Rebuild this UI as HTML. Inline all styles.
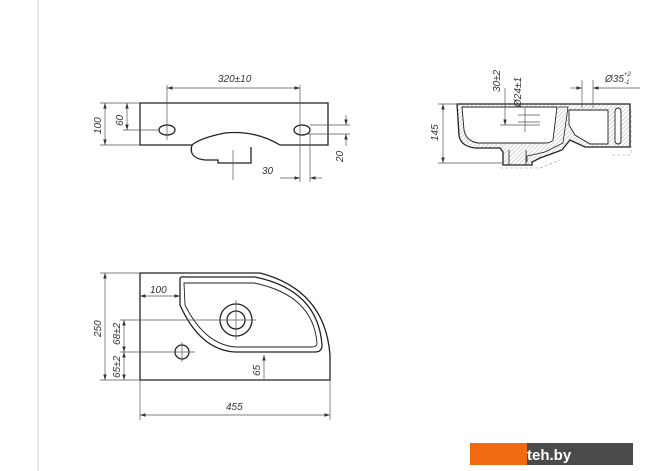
<!DOCTYPE html>
<html><head><style>body{margin:0;background:#fff}svg{display:block}text{font-family:"Liberation Sans",sans-serif;font-style:italic;font-size:10px;fill:#333}</style></head><body>
<svg width="670" height="471" viewBox="0 0 670 471" xmlns="http://www.w3.org/2000/svg">
<defs><marker id="a" markerWidth="8" markerHeight="6" refX="8" refY="3" orient="auto-start-reverse"><path d="M0,0.5 L8,3 L0,5.5" fill="#333"/></marker>
<pattern id="h" width="3" height="3" patternUnits="userSpaceOnUse" patternTransform="rotate(45)"><line x1="0" y1="0" x2="0" y2="3" stroke="#999" stroke-width="0.8"/></pattern></defs>
<line x1="38" y1="0" x2="38" y2="471" stroke="#ccc"/>
<g fill="none" stroke="#222" stroke-width="1.3">
<!-- front view -->
<path d="M140,103 H328 V145 H280 Q255,130 225,133 Q200,138 192,145 H140 Z"/>
<path d="M192,145 Q188,158 205,160 H218 V163 H251 V147"/>
<ellipse cx="167" cy="130" rx="8" ry="5"/><ellipse cx="302" cy="130" rx="8" ry="5"/>
<!-- side view -->
<path d="M457,104 H630 V147 H585 L570,140 L562,150 L540,158 L532,162 V165 H503 V152 L500,148 H475 Q460,146 459,135 Z" fill="url(#h)"/>
<path d="M462,107 H557 L553,140 Q551,143 545,143 H478 Q466,141 464,130 Z" fill="#fff" stroke-width="0.9"/>
<path d="M558,107 H568 L563,143 L545,152 L532,155 L527,156 L527,162" stroke-width="0.8"/>
<path d="M509,150 V165 M526,150 V165" stroke-width="0.8"/>
<path d="M569,110 H608 V144 H590 L575,135 L569,125 Z" fill="#fff" stroke-width="0.9"/>
<rect x="615" y="108" width="6" height="36" rx="3" fill="#fff" stroke-width="0.9"/>
<path d="M631,110 V155 M612,155 H630 M500,168 H540 L560,160" stroke="#999" stroke-width="0.6" stroke-dasharray="3,2"/>
<!-- top view -->
<path d="M140,273 H260 Q325,290 330,355 V380 H140 Z"/>
<path d="M180,279 Q180,276 186,277 H255 Q318,290 322,345 Q322,352 315,352 H235 Q200,350 180,305 Z"/>
<path d="M184,283 H254 Q313,295 317,343 Q317,347 312,347 H236 Q205,345 185,305 Z" stroke-width="0.9"/>
<circle cx="236" cy="320" r="16"/><circle cx="236" cy="320" r="9"/>
<circle cx="182" cy="352" r="7"/>
</g>
<g stroke="#555" stroke-width="0.7" fill="none">
<line x1="167" y1="85" x2="167" y2="140"/><line x1="300" y1="85" x2="300" y2="182"/>
<line x1="167" y1="88" x2="300" y2="88" marker-start="url(#a)" marker-end="url(#a)"/>
<line x1="100" y1="103" x2="140" y2="103"/><line x1="100" y1="145" x2="140" y2="145"/><line x1="123" y1="130" x2="160" y2="130"/>
<line x1="105" y1="103" x2="105" y2="145" marker-start="url(#a)" marker-end="url(#a)"/>
<line x1="127" y1="103" x2="127" y2="130" marker-start="url(#a)" marker-end="url(#a)"/>
<line x1="310" y1="125" x2="350" y2="125"/><line x1="308" y1="134" x2="350" y2="134"/>
<line x1="346" y1="115" x2="346" y2="125" marker-end="url(#a)"/><line x1="346" y1="146" x2="346" y2="134" marker-end="url(#a)"/>
<line x1="310" y1="134" x2="310" y2="182"/><line x1="280" y1="178" x2="300" y2="178" marker-end="url(#a)"/><line x1="322" y1="178" x2="310" y2="178" marker-end="url(#a)"/>
<line x1="233" y1="150" x2="233" y2="180"/>
<line x1="438" y1="104" x2="456" y2="104"/><line x1="438" y1="163" x2="503" y2="163"/>
<line x1="443" y1="104" x2="443" y2="163" marker-start="url(#a)" marker-end="url(#a)"/>
<line x1="505" y1="88" x2="505" y2="125" marker-end="url(#a)"/><line x1="500" y1="125" x2="540" y2="125"/>
<line x1="525" y1="108" x2="525" y2="132"/><line x1="518" y1="115" x2="540" y2="115"/><line x1="518" y1="122" x2="540" y2="122"/>
<line x1="582" y1="80" x2="582" y2="108"/><line x1="593" y1="80" x2="593" y2="108"/>
<line x1="570" y1="88" x2="582" y2="88" marker-end="url(#a)"/><line x1="640" y1="88" x2="593" y2="88" marker-end="url(#a)"/>
<line x1="100" y1="273" x2="140" y2="273"/><line x1="100" y1="380" x2="140" y2="380"/>
<line x1="105" y1="273" x2="105" y2="380" marker-start="url(#a)" marker-end="url(#a)"/>
<line x1="140" y1="296" x2="180" y2="296" marker-start="url(#a)" marker-end="url(#a)"/>
<line x1="120" y1="320" x2="256" y2="320"/><line x1="120" y1="352" x2="195" y2="352"/>
<line x1="236" y1="300" x2="236" y2="340"/><line x1="182" y1="342" x2="182" y2="362"/>
<line x1="124" y1="320" x2="124" y2="352" marker-start="url(#a)" marker-end="url(#a)"/>
<line x1="124" y1="352" x2="124" y2="380" marker-start="url(#a)" marker-end="url(#a)"/>
<line x1="264" y1="355" x2="264" y2="380" marker-start="url(#a)"/>
<line x1="140" y1="380" x2="140" y2="420"/><line x1="330" y1="380" x2="330" y2="420"/>
<line x1="140" y1="415" x2="330" y2="415" marker-start="url(#a)" marker-end="url(#a)"/>
</g>
<text x="218" y="82">320±10</text>
<text transform="translate(101,134) rotate(-90)">100</text>
<text transform="translate(123,126) rotate(-90)">60</text>
<text transform="translate(343,162) rotate(-90)">20</text>
<text x="262" y="174">30</text>
<text transform="translate(438,141) rotate(-90)">145</text>
<text transform="translate(500,92) rotate(-90)">30±2</text>
<text transform="translate(521,107) rotate(-90)">Ø24±1</text>
<text x="605" y="82">Ø35</text><text x="624" y="76" style="font-size:6px">+2</text><text x="624" y="84" style="font-size:6px">-1</text>
<text transform="translate(101,337) rotate(-90)">250</text>
<text x="150" y="293">100</text>
<text transform="translate(120,345) rotate(-90)">68±2</text>
<text transform="translate(120,378) rotate(-90)">65±2</text>
<text transform="translate(260,376) rotate(-90)">65</text>
<text x="226" y="410">455</text>
<rect x="470" y="443" width="57" height="22" fill="#f26a10"/>
<rect x="527" y="443" width="106" height="22" fill="#4a4a4a"/>
<text x="527" y="460" style="font-style:normal;font-weight:bold;font-size:15px;fill:#fff">teh.by</text>
</svg>
</body></html>
